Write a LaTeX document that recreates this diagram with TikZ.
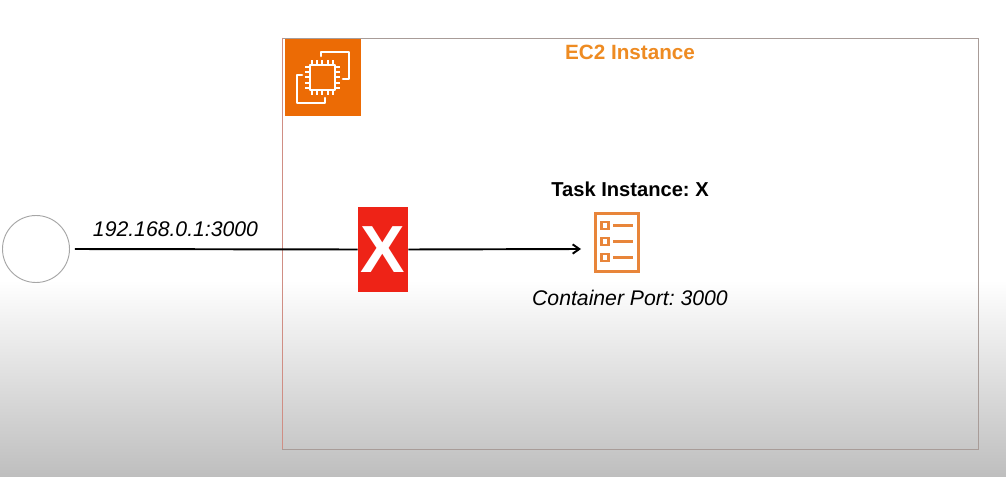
\documentclass[tikz,border=0pt]{standalone}
\usepackage{fontspec}
\usetikzlibrary{arrows.meta}
\setmainfont{Liberation Sans}
\definecolor{awsorange}{HTML}{EC6B05}
\definecolor{tasko}{HTML}{E8853A}
\definecolor{titleo}{HTML}{EE8B22}
\definecolor{boxedge}{HTML}{A89C98}
\definecolor{boxleft}{HTML}{D08E84}
\definecolor{xred}{HTML}{EE2317}
\definecolor{lowgray}{HTML}{BEBEBE}
\tikzset{
  chipline/.style={draw=white,line width=1.9pt,line join=round,line cap=round},
  taskline/.style={draw=tasko,line width=1.7pt},
  label/.style={inner sep=0pt,anchor=center,text=black},
  link/.style={draw=black,line width=1.45pt}
}
\begin{document}
\frenchspacing
\begin{tikzpicture}[x=0.75pt,y=-0.75pt]
\useasboundingbox (0,0) rectangle (1006,477);
\fill[white] (0,0) rectangle (1006,280);
\shade[top color=white,bottom color=lowgray] (0,280) rectangle (1006,477);
\node[draw=boxedge,line width=0.7pt,minimum width=695.5*0.75pt,minimum height=411*0.75pt,inner sep=0pt] (ec2) at (630.3,243.5) {};
\draw[boxleft,line width=0.8pt] (ec2.north west) -- (ec2.south west);
\node[fill=awsorange,minimum width=76*0.75pt,minimum height=77*0.75pt,inner sep=0pt] (chipicon) at (323,77.5) {};
% chip icon
\draw[chipline] (310,65) rectangle (335,90);
\foreach \k in {0,1,2,3,4}{
  \draw[white,line width=1.4pt] (312+\k*5.2,65) -- (312+\k*5.2,60);
  \draw[white,line width=1.4pt] (312+\k*5.2,90) -- (312+\k*5.2,95);
  \draw[white,line width=1.4pt] (310,67+\k*5.2) -- (305,67+\k*5.2);
  \draw[white,line width=1.4pt] (335,67+\k*5.2) -- (340,67+\k*5.2);
}
\draw[chipline] (321,56) -- (321,52) -- (349,52) -- (349,79) -- (343,79);
\draw[chipline] (302,75) -- (297,75) -- (297,103) -- (325,103) -- (325,98);
\node[label,font=\fontsize{15.5pt}{18pt}\selectfont\bfseries,text=titleo] (title) at (630,52) {EC2 Instance};
\node[draw=gray!70,line width=0.7pt,circle,minimum size=67*0.75pt,inner sep=0pt,fill=white] (client) at (36,249) {};
\node[fill=xred,minimum width=50*0.75pt,minimum height=85*0.75pt,inner sep=0pt,text=white,font=\fontsize{50pt}{50pt}\selectfont\bfseries] (blocked) at (383,249.5) {X};
\node[draw=tasko,line width=2pt,minimum width=43*0.75pt,minimum height=58*0.75pt,inner sep=0pt] (task) at (617,242.5) {};
\foreach \yy in {225.5,241.5,257.5}{
  \draw[taskline] (601.5,\yy-3.5) rectangle (608.5,\yy+3.5);
  \draw[taskline] (613,\yy) -- (633,\yy);
}
\coordinate (arrowend) at (581,249);
\draw[link,shorten <=5*0.75pt] (client.east) -- (blocked.west);
\draw[link,-{Straight Barb[length=5pt,width=7pt]}] (blocked.east) -- (arrowend);
\node[label,font=\fontsize{15.9pt}{18pt}\selectfont\itshape] (addr) at (175.5,229) {192.168.0.1:3000};
\node[label,font=\fontsize{15.1pt}{18pt}\selectfont\bfseries] (tasklabel) at (630,189.5) {Task Instance: X};
\node[label,font=\fontsize{15.9pt}{18pt}\selectfont\itshape] (portlabel) at (630,298) {Container Port: 3000};
\end{tikzpicture}
\end{document}
